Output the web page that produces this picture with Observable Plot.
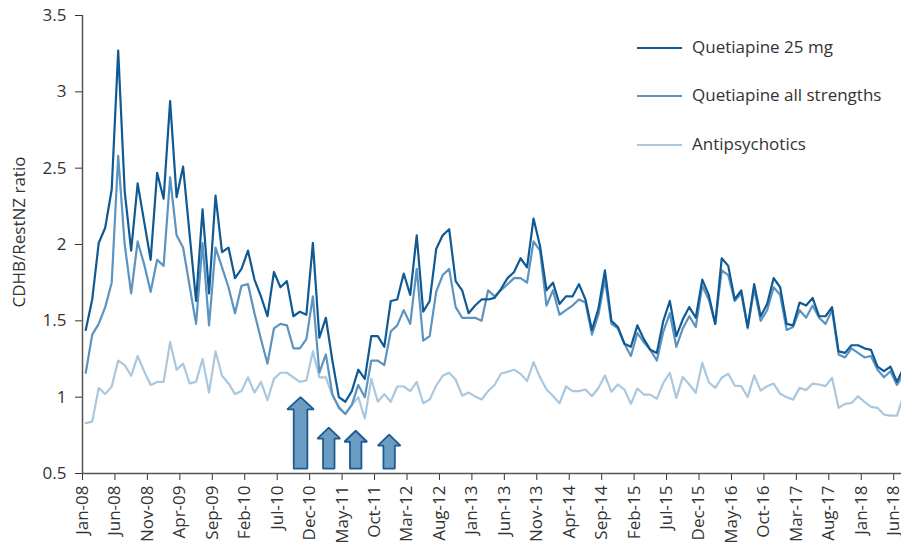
<!DOCTYPE html>
<html><head><meta charset="utf-8">
<script src="https://cdn.jsdelivr.net/npm/d3@7"></script>
<script src="https://cdn.jsdelivr.net/npm/@observablehq/plot@0.6"></script>
<style>
body{margin:0;background:#fff;overflow:hidden}
#wrap{position:relative;width:901px;height:547px;font-family:"Open Sans",Lato,sans-serif;font-weight:400;color:#333}
#wrap svg{position:absolute;left:0;top:0}
.leg{position:absolute;left:637px;height:20px;font-size:17px;line-height:20px;white-space:nowrap}
.leg i{display:inline-block;width:45px;height:0;border-top:2px solid;vertical-align:middle;margin-right:10px}
#ylab{position:absolute;left:18px;top:232px;transform:translate(-50%,-50%) rotate(-90deg);font-size:17px;white-space:nowrap}
</style></head><body><div id="wrap"></div>
<script>
const tickLabels = ["Jan-08","Jun-08","Nov-08","Apr-09","Sep-09","Feb-10","Jul-10","Dec-10","May-11","Oct-11","Mar-12","Aug-12","Jan-13","Jun-13","Nov-13","Apr-14","Sep-14","Feb-15","Jul-15","Dec-15","May-16","Oct-16","Mar-17","Aug-17","Jan-18","Jun-18"];
const yTicks = [0.5,1,1.5,2,2.5,3,3.5];
const seriesNames = ["Quetiapine 25 mg","Quetiapine all strengths","Antipsychotics"];
const seriesColors = ["#0f5a94","#5b93c1","#a9c8df"];

// monthly values, Jan-08 .. Jul-18
const q25 = [1.44,1.64,2.01,2.11,2.36,3.27,2.35,1.96,2.40,2.15,1.90,2.47,2.30,2.94,2.31,2.51,2.07,1.63,2.23,1.68,
2.32,1.95,1.98,1.78,1.84,1.96,1.77,1.66,1.53,1.82,1.72,1.76,1.53,1.56,1.54,2.01,1.39,1.52,1.24,1.00,
0.97,1.04,1.18,1.12,1.40,1.40,1.33,1.63,1.64,1.81,1.67,2.06,1.56,1.63,1.97,2.06,2.10,1.76,1.70,1.55,
1.60,1.64,1.64,1.65,1.71,1.78,1.82,1.91,1.85,2.17,1.99,1.70,1.75,1.61,1.66,1.66,1.74,1.64,1.44,1.58,
1.83,1.50,1.46,1.35,1.33,1.47,1.38,1.31,1.29,1.50,1.63,1.40,1.51,1.59,1.52,1.77,1.67,1.48,1.91,1.86,
1.64,1.70,1.46,1.74,1.53,1.61,1.78,1.72,1.48,1.47,1.62,1.60,1.65,1.53,1.53,1.59,1.30,1.29,1.34,1.34,
1.32,1.31,1.20,1.17,1.20,1.10,1.19];
const qAll = [1.16,1.41,1.48,1.59,1.75,2.58,2.00,1.68,2.02,1.87,1.69,1.90,1.86,2.44,2.06,1.98,1.73,1.48,2.01,1.47,
1.98,1.85,1.72,1.55,1.73,1.74,1.55,1.38,1.22,1.45,1.48,1.47,1.32,1.32,1.38,1.66,1.16,1.28,1.02,0.93,
0.89,0.95,1.08,1.00,1.24,1.24,1.21,1.43,1.47,1.57,1.48,1.84,1.37,1.40,1.69,1.80,1.84,1.59,1.52,1.52,
1.52,1.50,1.70,1.66,1.70,1.74,1.78,1.78,1.75,2.02,1.96,1.60,1.70,1.54,1.57,1.60,1.64,1.62,1.41,1.54,
1.77,1.48,1.45,1.35,1.27,1.42,1.36,1.31,1.24,1.43,1.55,1.33,1.45,1.53,1.46,1.73,1.64,1.48,1.83,1.80,
1.63,1.68,1.45,1.71,1.50,1.57,1.72,1.67,1.44,1.46,1.57,1.52,1.60,1.52,1.48,1.57,1.28,1.26,1.32,1.29,
1.26,1.27,1.18,1.13,1.17,1.08,1.15];
const anti = [0.83,0.84,1.06,1.02,1.07,1.24,1.21,1.14,1.27,1.17,1.08,1.10,1.10,1.36,1.18,1.22,1.09,1.10,1.25,1.03,
1.30,1.14,1.09,1.02,1.04,1.13,1.03,1.10,0.98,1.12,1.16,1.16,1.13,1.10,1.11,1.30,1.13,1.13,1.01,0.94,
0.89,0.95,1.00,0.86,1.12,0.97,1.02,0.97,1.07,1.07,1.04,1.10,0.96,0.985,1.075,1.14,1.16,1.115,1.01,1.03,
1.005,0.985,1.04,1.08,1.155,1.166,1.18,1.153,1.105,1.23,1.13,1.05,1.007,0.96,1.07,1.04,1.04,1.05,1.006,1.06,
1.142,1.035,1.083,1.05,0.956,1.057,1.017,1.017,0.989,1.094,1.159,0.995,1.133,1.083,1.028,1.225,1.098,1.061,1.127,1.153,
1.076,1.072,1.0,1.142,1.043,1.072,1.089,1.022,1.0,0.984,1.061,1.046,1.089,1.083,1.072,1.127,0.93,0.956,0.962,1.006,
0.969,0.936,0.93,0.886,0.879,0.879,1.01];

// events marked with arrows (month position, arrow tip value)
const eventPos = [33.6,37.95,42.1,47.25];
const eventTop = [1.0,0.80,0.78,0.755];

const rows = [];
[[anti,2],[qAll,1],[q25,0]].forEach(([arr,s]) => arr.forEach((v,i) => rows.push({series: seriesNames[s], u: i + 0.5, v})));

const arrowPts = [];
eventPos.forEach((c,k) => {
  const big = k === 0;
  const sw = big ? 1.05 : 0.88, hw = big ? 2.05 : 1.75, hh = big ? 0.08 : 0.072, bot = 0.532, tip = eventTop[k];
  const base = tip - hh;
  [[c-sw,bot],[c-sw,base],[c-hw,base],[c,tip],[c+hw,base],[c+sw,base],[c+sw,bot],[c-sw,bot]]
    .forEach(([x,y]) => arrowPts.push({k, x, y}));
});

const chart = Plot.plot({
  width: 901, height: 547,
  marginLeft: 82, marginRight: 0, marginTop: 15, marginBottom: 74,
  style: {fontFamily: "'Open Sans', Lato, sans-serif", fontWeight: 400, fontSize: "17px", color: "#333", background: "transparent", overflow: "visible"},
  x: {type: "linear", domain: [0, 126.2], ticks: tickLabels.map((d,i) => i*5), tickFormat: d => tickLabels[Math.round(d/5)],
      tickRotate: -90, tickSize: 7, tickPadding: 5, label: null},
  y: {domain: [0.5, 3.5], ticks: yTicks, tickFormat: d => String(d), tickSize: 7, tickPadding: 9, label: null},
  color: {domain: seriesNames, range: seriesColors},
  marks: [
    Plot.line(rows, {x: "u", y: "v", z: "series", stroke: "series", strokeWidth: 2.2}),
    Plot.line(arrowPts, {x: "x", y: "y", z: "k", fill: "#6a9cc4", stroke: "#1d5b91", strokeWidth: 1.8, strokeLinejoin: "miter"}),
    Plot.ruleX([0], {stroke: "#555", strokeWidth: 1.5}),
    Plot.ruleY([0.5], {stroke: "#555", strokeWidth: 1.5})
  ]
});
const wrap = document.getElementById("wrap");
wrap.appendChild(chart);
const ylab = document.createElement("div");
ylab.id = "ylab"; ylab.textContent = "CDHB/RestNZ ratio";
wrap.appendChild(ylab);
const legY = [47, 95, 144];
seriesNames.forEach((n,i) => {
  const d = document.createElement("div");
  d.className = "leg";
  d.style.top = (legY[i] - 10) + "px";
  d.innerHTML = `<i style="border-color:${seriesColors[i]}"></i>${n}`;
  wrap.appendChild(d);
});
</script></body></html>
